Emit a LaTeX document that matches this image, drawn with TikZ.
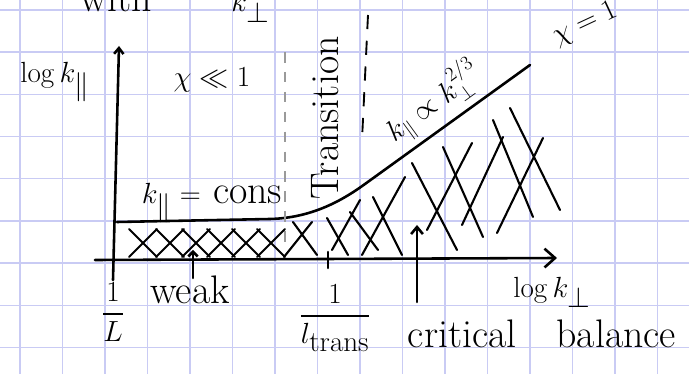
\documentclass[tikz,border=0pt]{standalone}
\usepackage{amsmath,amssymb}
\usepackage{xcolor}
\usepackage{tikz}
\usetikzlibrary{calc,arrows.meta}
\definecolor{gridblue}{HTML}{C9CBF4}
\definecolor{pencil}{HTML}{9A9A9A}
\tikzset{ink/.style={line width=2.2pt,black,line cap=round,line join=round},
  hatch/.style={line width=1.8pt,black,line cap=round},
  lbl/.style={font=\fontsize{34}{36}\selectfont,inner sep=0pt}}

\begin{document}
\begin{tikzpicture}[x=0.03cm,y=-0.03cm]
\useasboundingbox (0,0) rectangle (689,374);
\fill[white] (0,0) rectangle (689,374);
% squared paper
\foreach \i in {0,...,16} \draw[gridblue,line width=1.2pt] (20+42.5*\i,0) -- (20+42.5*\i,374);
\foreach \j in {0,...,8} \draw[gridblue,line width=1.2pt] (0,10+42.2*\j) -- (689,10+42.2*\j);
% axes
\coordinate (ybot) at (113,280); \coordinate (ytop) at (119,46);
\coordinate (xleft) at (95,260); \coordinate (xright) at (557,258);
\draw[ink,-{Straight Barb[length=9pt,width=16pt]}] (xleft) -- (xright);
\draw[ink,-{Straight Barb[length=5pt,width=8pt]}] (ybot) -- (ytop);
% k_par(k_perp)
\draw[ink] (117,222) -- (270,219) .. controls (312,218) and (343,200) .. (365,184) -- (530,65);
% transition boundaries
\draw[pencil,line width=1.2pt,dash pattern=on 9pt off 8pt] (285,52) -- (285,245);
\draw[black,line width=1.6pt,dash pattern=on 12pt off 10pt] (368,15) -- (362,140);
% hatching
\foreach \c in {143,170,196,221,246,271} \draw[hatch] (\c-14,229) -- (\c+14,257) (\c+14,229) -- (\c-14,257);
\foreach \a/\b/\c/\d in {293/222/317/255, 312/222/284/257, 327/218/348/255, 360/200/332/250,
  350/212/378/250, 373/197/402/255, 405/177/362/255, 412/163/457/250, 472/143/427/230,
  443/147/483/237, 503/137/462/225, 493/120/533/217, 543/138/497/233, 510/108/560/210}
  \draw[hatch] (\a,\b) -- (\c,\d);
% ticks and pointers
\coordinate (tk1) at (328,252); \coordinate (tk2) at (328,268);
\draw[ink] (tk1) -- (tk2);
\coordinate (wkfoot) at (193,278); \coordinate (wkhead) at (193,250);
\draw[ink,-{Straight Barb[length=4pt,width=8pt]}] (wkfoot) -- (wkhead);
\coordinate (cbfoot) at (417,302); \coordinate (cbhead) at (417,225);
\draw[ink,-{Straight Barb[length=6pt,width=10pt]}] (cbfoot) -- (cbhead);
% labels
\node[lbl,anchor=base] (withk) at (175,12) {with\qquad$k_\perp$};
\node[lbl] (ylab) at (55,82) {$\log k_\parallel$};
\node[lbl] (chismall) at (212,80) {$\chi\ll 1$};
\node[lbl] (kcons) at (212,203) {$k_\parallel =$ cons};
\node[lbl,rotate=90] (trans) at (325,118) {Transition};
\node[lbl,font=\fontsize{26}{28}\selectfont,rotate=36] (scaling) at (433,102) {$k_\parallel\propto k_\perp^{2/3}$};
\node[lbl,rotate=25] (chione) at (585,24) {$\chi=1$};
\node[lbl] (Lfrac) at (113,312) {$\dfrac{1}{L}$};
\node[lbl] (weak) at (190,290) {weak};
\node[lbl] (ltrans) at (335,318) {$\dfrac{1}{l_{\mathrm{trans}}}$};
\node[lbl] (xlab) at (552,292) {$\log k_\perp$};
\node[lbl] (crit) at (542,334) {critical\quad balance};
\end{tikzpicture}
\end{document}
